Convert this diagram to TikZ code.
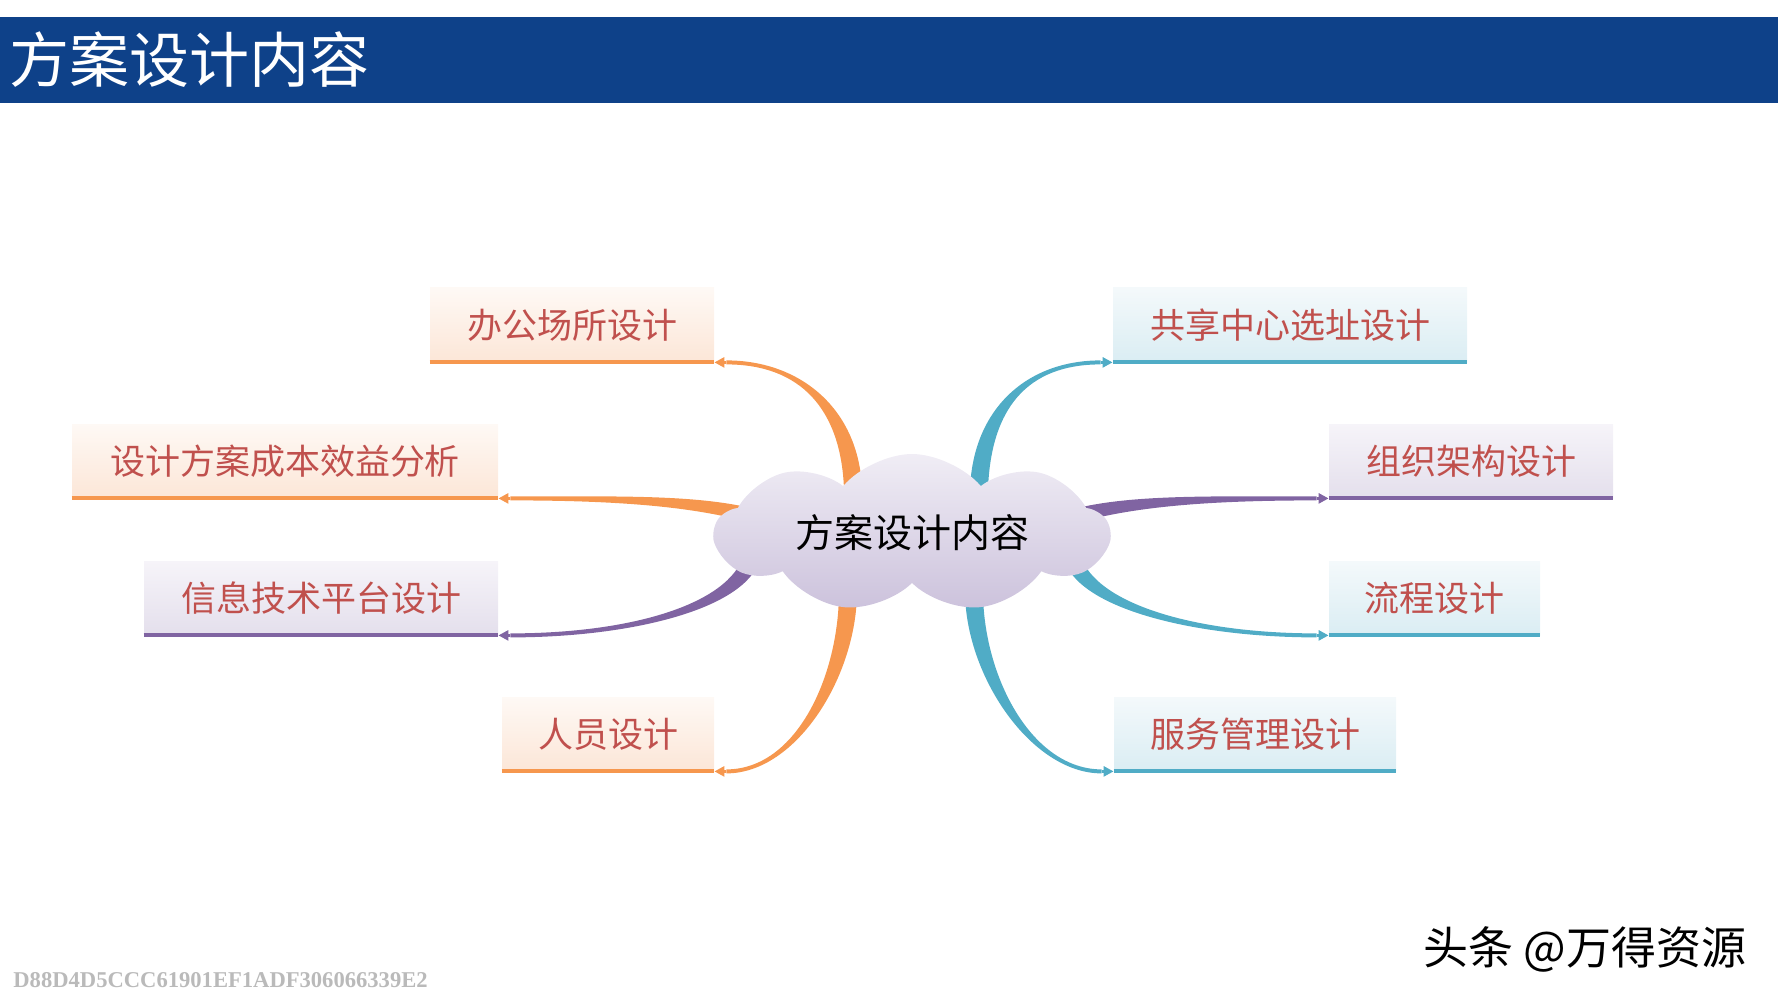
\documentclass[tikz,border=0pt]{standalone}
\usepackage{fontspec}
\setmainfont{Noto Sans CJK SC}
\newfontfamily\markfont{Liberation Serif}
\usetikzlibrary{calc,shapes.symbols,arrows.meta,backgrounds}

\definecolor{barblue}{RGB}{14,65,137}
\definecolor{txtred}{RGB}{192,80,77}
\definecolor{corange}{RGB}{246,151,78}
\definecolor{cpurple}{RGB}{128,100,162}
\definecolor{cblue}{RGB}{80,172,198}
\definecolor{otop}{RGB}{254,249,245}
\definecolor{obot}{RGB}{252,230,215}
\definecolor{ptop}{RGB}{246,244,249}
\definecolor{pbot}{RGB}{228,223,236}
\definecolor{btop}{RGB}{244,249,251}
\definecolor{bbot}{RGB}{218,237,243}
\definecolor{ctop}{RGB}{240,237,245}
\definecolor{cbot}{RGB}{204,194,220}

% tapered branch: colour, start, c1 (rel), c2 (rel), end, start offset, end offset
\newcommand{\branch}[7]{%
  \fill[#1] ($(#2)+(#6)$) .. controls +(#3) and +(#4) .. ($(#5)+(#7)$)
    -- ($(#5)-(#7)$) .. controls +(#4) and +(#3) .. ($(#2)-(#6)$) -- cycle;}

\begin{document}
\begin{tikzpicture}[x=0.5pt, y=-0.5pt,
  topic/.style={rectangle, inner sep=0pt, minimum height=37pt, text=txtred,
    font=\fontsize{17.5pt}{20pt}\selectfont},
  otopic/.style={topic, top color=otop, bottom color=obot},
  ptopic/.style={topic, top color=ptop, bottom color=pbot},
  btopic/.style={topic, top color=btop, bottom color=bbot},
  tip/.style={line width=1.5pt, -{Triangle[length=5pt,width=5pt]}}]
  \useasboundingbox (0,0) rectangle (1778,1000);

  % title bar
  \fill[barblue] (0,17) rectangle (1778,103);
  \node[anchor=west, inner sep=0pt, text=white, font=\fontsize{30pt}{33pt}\selectfont] (title) at (9,60) {方案设计内容};

  % centre
  \node[cloud, cloud puffs=9, cloud puff arc=100, cloud ignores aspect,
    minimum width=197pt, minimum height=79pt, inner sep=0pt,
    top color=ctop, bottom color=cbot, font=\fontsize{19.5pt}{22pt}\selectfont] (idea) at (912,533) {方案设计内容};

  % topics
  \node[otopic, minimum width=142pt] (office) at (572,325) {办公场所设计};
  \node[otopic, minimum width=213pt] (cost) at (285,461) {设计方案成本效益分析};
  \node[ptopic, minimum width=177pt] (itplat) at (321,598) {信息技术平台设计};
  \node[otopic, minimum width=106pt] (staff) at (608,734) {人员设计};
  \node[btopic, minimum width=177pt] (site) at (1290,325) {共享中心选址设计};
  \node[ptopic, minimum width=142pt] (org) at (1471,461) {组织架构设计};
  \node[btopic, minimum width=105.5pt] (flow) at (1434.5,598) {流程设计};
  \node[btopic, minimum width=141pt] (service) at (1255,734) {服务管理设计};

  \foreach \b/\c in {office/corange, cost/corange, staff/corange, itplat/cpurple,
      org/cpurple, site/cblue, flow/cblue, service/cblue}
    \draw[\c, line width=2pt] (\b.south west) -- (\b.south east);

  % branch ends
  \coordinate (s1) at ($(idea.center)+(-59,-44)$);
  \coordinate (s2) at ($(idea.center)+(67,-44)$);
  \coordinate (s3) at ($(idea.center)+(-64,58)$);
  \coordinate (s4) at ($(idea.center)+(62,58)$);
  \coordinate (s5) at ($(idea.center)+(-142,-12)$);
  \coordinate (s6) at ($(idea.center)+(146,-12)$);
  \coordinate (s7) at ($(idea.center)+(-160,24)$);
  \coordinate (s8) at ($(idea.center)+(160,24)$);
  \coordinate (e1) at ($(office.south east)+(12,0)$);
  \coordinate (e2) at ($(site.south west)+(-12,0)$);
  \coordinate (e3) at ($(staff.south east)+(12,0)$);
  \coordinate (e4) at ($(service.south west)+(-12,0)$);
  \coordinate (e5) at ($(cost.south east)+(12,0)$);
  \coordinate (e6) at ($(org.south west)+(-12,0)$);
  \coordinate (e7) at ($(itplat.south east)+(12,0)$);
  \coordinate (e8) at ($(flow.south west)+(-12,0)$);

  \begin{scope}[on background layer]
    \branch{corange}{s1}{-3,-80}{74,0}{e1}{9,0}{0,-2}
    \branch{cblue}{s2}{3,-80}{-74,0}{e2}{9,0}{0,2}
    \branch{corange}{s3}{0,85}{70,0}{e3}{9,0}{0,2}
    \branch{cblue}{s4}{0,85}{-70,0}{e4}{9,0}{0,-2}
    \branch{corange}{s5}{-60,-20}{120,0}{e5}{-2,7}{0,2}
    \branch{cpurple}{s6}{60,-20}{-120,0}{e6}{-2,-7}{0,-2}
    \branch{cpurple}{s7}{-15,50}{120,0}{e7}{8,2.5}{0,2}
    \branch{cblue}{s8}{15,50}{-120,0}{e8}{8,-2.5}{0,-2}
  \end{scope}
  \draw[corange, tip] (e1) -- (office.south east);
  \draw[cblue, tip] (e2) -- (site.south west);
  \draw[corange, tip] (e3) -- (staff.south east);
  \draw[cblue, tip] (e4) -- (service.south west);
  \draw[corange, tip] (e5) -- (cost.south east);
  \draw[cpurple, tip] (e6) -- (org.south west);
  \draw[cpurple, tip] (e7) -- (itplat.south east);
  \draw[cblue, tip] (e8) -- (flow.south west);

  % footer
  \node[font=\fontsize{22.5pt}{26pt}\selectfont] (brand) at (1585,949) {头条 @万得资源};
  \node[anchor=west, inner sep=0pt, text=black!27, font=\markfont\bfseries\fontsize{11.3pt}{13pt}\selectfont] (mark) at (13,980) {D88D4D5CCC61901EF1ADF306066339E2};
\end{tikzpicture}
\end{document}
